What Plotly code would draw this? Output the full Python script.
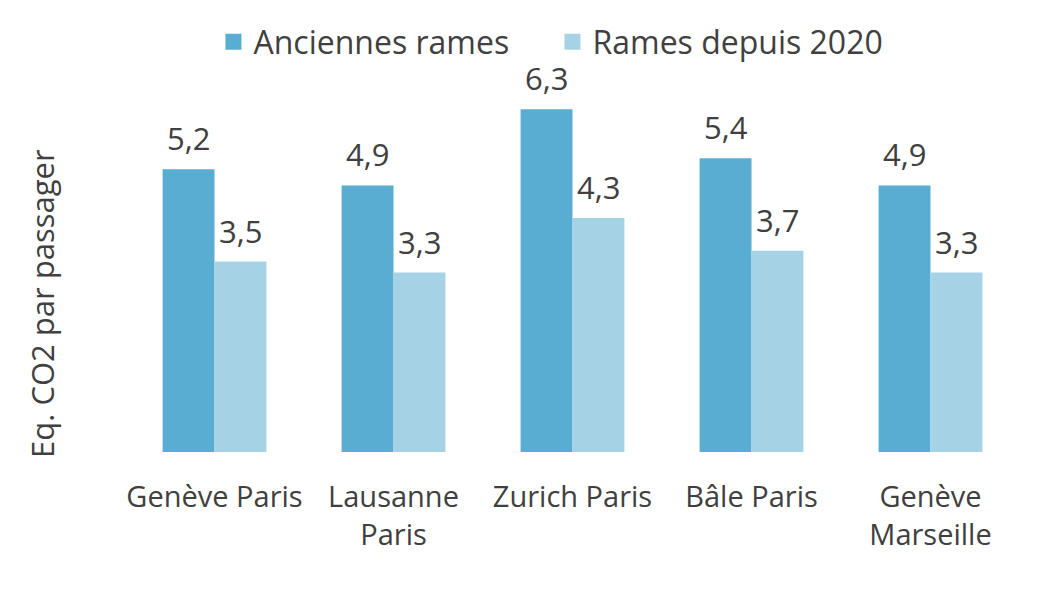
import plotly.graph_objects as go

trajets = ["Genève Paris", "Lausanne<br>Paris", "Zurich Paris", "Bâle Paris", "Genève<br>Marseille"]
anciennes = [5.2, 4.9, 6.3, 5.4, 4.9]
nouvelles = [3.5, 3.3, 4.3, 3.7, 3.3]

font = "Open Sans"
gris = "#404040"
bleu_fonce = "#5aadd2"
bleu_clair = "#a6d2e5"

# page body has an 8px margin, compensate so the plot area lands where it should
decal = 8
W, H = 1043, 589
ml, mr, mt, mb = 125 - decal, 23 + decal, 93 - decal, 137 + decal
pw = W - ml - mr
ph = H - mt - mb

fig = go.Figure()
fig.add_trace(go.Bar(x=trajets, y=anciennes, name="Anciennes rames",
                     marker=dict(color=bleu_fonce, line=dict(width=0)), showlegend=False))
fig.add_trace(go.Bar(x=trajets, y=nouvelles, name="Rames depuis 2020",
                     marker=dict(color=bleu_clair, line=dict(width=0)), showlegend=False))

# legend entries with bigger square symbols
for nom, coul in [("Anciennes rames", bleu_fonce), ("Rames depuis 2020", bleu_clair)]:
    fig.add_trace(go.Scatter(x=[None], y=[None], mode="markers", name=nom,
                             marker=dict(symbol="square", size=22, color=coul)))

# value labels above bars
annots = []
for i, cat in enumerate(trajets):
    for val, dx in [(anciennes[i], -25.75), (nouvelles[i], 25.75)]:
        annots.append(dict(x=cat, y=val, xref="x", yref="y", text=f"{val:.1f}".replace(".", ","),
                           showarrow=False, xshift=dx, yshift=8, yanchor="bottom",
                           font=dict(size=31, color=gris, family=font)))

annots.append(dict(
    text="Eq. CO2 par passager", textangle=-90,
    x=(42 - 125) / pw, xref="paper", xanchor="center",
    y=(452 - 304) / ph, yref="paper", yanchor="middle",
    showarrow=False, font=dict(size=31, color=gris, family=font),
))

fig.update_layout(
    width=W, height=H,
    margin=dict(l=ml, r=mr, t=mt, b=mb),
    paper_bgcolor="white", plot_bgcolor="white",
    barmode="group", bargap=0.42, bargroupgap=0,
    font=dict(family=font, color=gris),
    legend=dict(
        orientation="h", xref="container", yref="container",
        x=0.197, xanchor="left", y=1 - (42 - decal) / H, yanchor="middle",
        font=dict(size=32, color=gris, family=font),
        entrywidth=294, entrywidthmode="pixels", traceorder="normal",
    ),
    annotations=annots,
)
fig.update_yaxes(range=[0, 6.6], showgrid=False, showticklabels=False,
                 zeroline=False, showline=False, ticks="", automargin=False)
fig.update_xaxes(showline=False, ticks="", automargin=False, ticklabelstandoff=25,
                 tickfont=dict(size=29, color=gris, family=font))

fig.write_html("out.html")
